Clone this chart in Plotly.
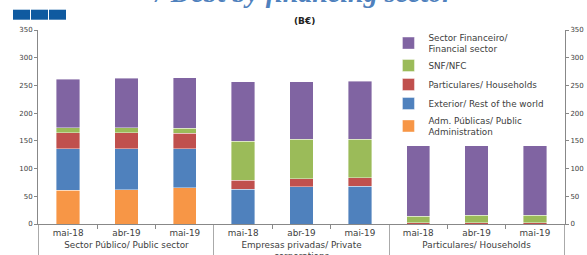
import plotly.graph_objects as go

groups = ["Sector Público/ Public sector"] * 3 + ["Empresas privadas/ Private<br>corporations"] * 3 + ["Particulares/ Households"] * 3
periods = ["mai-18", "abr-19", "mai-19"] * 3

adm_publicas = [61, 62, 65, 0, 0, 0, 0, 0, 0]
exterior = [75, 73.5, 70.5, 63, 67, 68.5, 0, 0, 0]
particulares = [29, 29.5, 28, 15.5, 15, 15, 2, 2, 2]
snf_nfc = [9, 9, 9, 71, 70.5, 69, 12, 14, 14]
financeiro = [87, 89, 91, 107, 104, 105, 127, 125, 125]

series = [
    ("Adm. Públicas/ Public<br>Administration", adm_publicas, "#F79646"),
    ("Exterior/ Rest of the world", exterior, "#4F81BD"),
    ("Particulares/ Households", particulares, "#C0504D"),
    ("SNF/NFC", snf_nfc, "#9BBB59"),
    ("Sector Financeiro/<br>Financial sector", financeiro, "#8064A2"),
]

y_ticks = [0, 50, 100, 150, 200, 250, 300, 350]

fig = go.Figure()
for i, (name, vals, color) in enumerate(series):
    fig.add_trace(go.Bar(
        x=[groups, periods], y=vals, name=name, legendgroup=f"g{i}",
        marker=dict(color=color, line=dict(color="rgba(255,255,255,0.5)", width=0.8)),
    ))

# invisible trace so the secondary (right) axis is drawn
fig.add_trace(go.Scatter(
    x=[groups, periods], y=financeiro, yaxis="y2", mode="markers",
    marker=dict(opacity=0), showlegend=False, hoverinfo="skip",
))

fig.update_layout(
    width=587, height=255,
    margin=dict(l=38, r=22, t=30, b=31),
    barmode="stack", bargap=0.6,
    plot_bgcolor="white", paper_bgcolor="white",
    font=dict(family="DejaVu Sans", size=7, color="#404040"),
    showlegend=True,
    legend=dict(
        x=0.665, y=1.025, xanchor="left", yanchor="top",
        traceorder="reversed", bgcolor="rgba(0,0,0,0)",
        font=dict(size=8.8, color="#404040"),
        itemwidth=30, tracegroupgap=2,
    ),
    xaxis=dict(
        type="multicategory", showline=True, linecolor="#888888", linewidth=1,
        ticks="outside", ticklen=4, tickcolor="#888888", tickson="boundaries",
        showdividers=True, dividercolor="#aaaaaa", dividerwidth=1,
        tickfont=dict(size=8.8, color="#404040"), automargin=False,
    ),
    yaxis=dict(
        range=[0, 350], tickvals=y_ticks, showline=True, linecolor="#888888",
        ticks="outside", ticklen=3, tickcolor="#888888", showgrid=False,
        zeroline=False, automargin=False, tickfont=dict(size=7),
    ),
    yaxis2=dict(
        range=[0, 350], tickvals=y_ticks, overlaying="y", side="right",
        showline=True, linecolor="#888888", ticks="outside", ticklen=3,
        tickcolor="#888888", showgrid=False, zeroline=False, automargin=False,
        tickfont=dict(size=7),
    ),
)

fig.add_annotation(
    text="<b><i>/ Debt by financing sector</i></b>", xref="paper", yref="paper",
    x=0.505, y=1.0, yshift=20, xanchor="center", yanchor="bottom", showarrow=False,
    font=dict(family="Liberation Serif", size=28, color="#4F81BD"),
)
fig.add_annotation(
    text="<b>(B€)</b>", xref="paper", yref="paper", x=0.505, y=1.0, yshift=2,
    xanchor="center", yanchor="bottom", showarrow=False,
    font=dict(family="DejaVu Sans", size=9, color="#222222"),
)
for x0 in [13, 31, 49]:
    fig.add_shape(type="rect", xref="paper", yref="paper",
                  x0=(x0 - 38) / 527, x1=(x0 + 17 - 38) / 527,
                  y0=(224.3 - 20) / 194, y1=(224.3 - 10) / 194,
                  fillcolor="#0F5AA0", line=dict(width=0))

fig.write_html("out.html", config={"displayModeBar": False},
               post_script="document.body.style.margin='0';")
